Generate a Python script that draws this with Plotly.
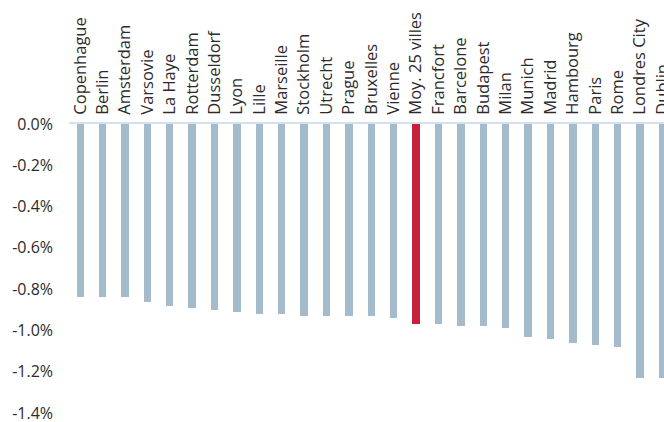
import plotly.graph_objects as go

cities = ["Copenhague", "Berlin", "Amsterdam", "Varsovie", "La Haye", "Rotterdam",
          "Dusseldorf", "Lyon", "Lille", "Marseille", "Stockholm", "Utrecht",
          "Prague", "Bruxelles", "Vienne", "Moy. 25 villes", "Francfort", "Barcelone",
          "Budapest", "Milan", "Munich", "Madrid", "Hambourg", "Paris", "Rome",
          "Londres City", "Dublin"]
values = [-0.84, -0.84, -0.84, -0.86, -0.88, -0.89, -0.90, -0.91, -0.92, -0.92,
          -0.93, -0.93, -0.93, -0.93, -0.94, -0.97, -0.97, -0.98, -0.98, -0.99,
          -1.03, -1.04, -1.06, -1.07, -1.08, -1.23, -1.23]
highlight = "Moy. 25 villes"
y_ticks = [0, -0.2, -0.4, -0.6, -0.8, -1.0, -1.2, -1.4]
y_tick_labels = ["0.0%", "-0.2%", "-0.4%", "-0.6%", "-0.8%", "-1.0%", "-1.2%", "-1.4%"]

colors = ["#c8203a" if c == highlight else "#a3bbca" for c in cities]

fig = go.Figure(go.Bar(
    x=list(range(len(cities))), y=values, marker_color=colors,
    marker_line_width=0, width=0.33,
))

font_family = "Open Sans, sans-serif"

fig.update_layout(
    width=664, height=422,
    margin=dict(l=69, r=0, t=124, b=9, autoexpand=False),
    paper_bgcolor="white", plot_bgcolor="white",
    showlegend=False,
    font=dict(family=font_family, size=16, color="#2b2b2b"),
    xaxis=dict(
        side="top", range=[-0.5, 26.07], automargin=False,
        tickmode="array", tickvals=list(range(len(cities))), ticktext=cities,
        tickangle=-90, showgrid=False, zeroline=False,
        showline=True, linecolor="#d2e1ee", linewidth=2,
        ticks="", ticklabelstandoff=4, ticklabeloverflow="allow",
        tickfont=dict(family=font_family, size=16.5, color="#2b2b2b"),
    ),
    yaxis=dict(
        range=[-1.4, 0], automargin=False,
        tickmode="array", tickvals=y_ticks, ticktext=y_tick_labels,
        showgrid=False, zeroline=False, showline=False, ticks="",
        ticklabelstandoff=15, ticklabeloverflow="allow",
        tickfont=dict(family=font_family, size=16, color="#2b2b2b"),
    ),
    bargap=0,
)

fig.write_html("out.html")
